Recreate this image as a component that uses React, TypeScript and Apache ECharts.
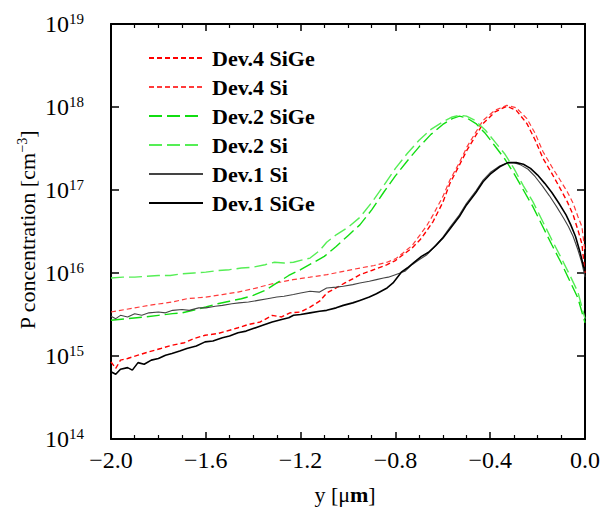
import React, { useEffect, useRef } from "react";
import * as echarts from "echarts";

// Phosphorus profiles: [y position (µm), log10 concentration (cm^-3)]
const dev4SiGe: number[][] = [
  [-2.0, 14.93], [-1.98, 14.85], [-1.96, 14.95], [-1.93, 14.97], [-1.886, 15.01], [-1.84, 15.05],
  [-1.79, 15.09], [-1.743, 15.13], [-1.69, 15.16], [-1.65, 15.21], [-1.603, 15.25], [-1.55, 15.27],
  [-1.5, 15.31], [-1.464, 15.34], [-1.42, 15.38], [-1.37, 15.41], [-1.32, 15.49], [-1.28, 15.47],
  [-1.245, 15.52], [-1.2, 15.53], [-1.16, 15.59], [-1.12, 15.66], [-1.089, 15.76], [-1.05, 15.82],
  [-1.013, 15.88], [-0.98, 15.93], [-0.949, 15.98], [-0.9, 16.03], [-0.835, 16.1], [-0.8, 16.15],
  [-0.768, 16.22], [-0.73, 16.3], [-0.696, 16.4], [-0.67, 16.5], [-0.641, 16.62], [-0.6, 16.85],
  [-0.57, 17.08], [-0.53, 17.3], [-0.498, 17.48], [-0.46, 17.66], [-0.43, 17.8], [-0.38, 17.94],
  [-0.33, 18.01], [-0.29, 17.96], [-0.245, 17.8], [-0.21, 17.6], [-0.177, 17.38], [-0.14, 17.2],
  [-0.105, 17.02], [-0.075, 16.86], [-0.05, 16.7], [-0.03, 16.52], [-0.013, 16.35], [0.0, 16.0],
];

const dev4Si: number[][] = [
  [-2.0, 15.53], [-1.96, 15.55], [-1.9, 15.58], [-1.84, 15.61], [-1.743, 15.65], [-1.68, 15.69],
  [-1.6, 15.71], [-1.53, 15.74], [-1.464, 15.77], [-1.4, 15.81], [-1.32, 15.87], [-1.232, 15.92],
  [-1.16, 15.95], [-1.089, 15.98], [-1.02, 16.02], [-0.949, 16.06], [-0.89, 16.09], [-0.835, 16.13],
  [-0.8, 16.17], [-0.768, 16.24], [-0.73, 16.33], [-0.696, 16.46], [-0.67, 16.56], [-0.641, 16.7],
  [-0.6, 16.92], [-0.57, 17.12], [-0.53, 17.33], [-0.498, 17.52], [-0.46, 17.7], [-0.43, 17.84],
  [-0.38, 17.96], [-0.33, 18.02], [-0.29, 17.99], [-0.245, 17.86], [-0.21, 17.68], [-0.177, 17.46],
  [-0.14, 17.28], [-0.105, 17.12], [-0.075, 16.98], [-0.05, 16.84], [-0.03, 16.68], [-0.013, 16.56],
  [0.0, 16.25],
];

const dev2SiGe: number[][] = [
  [-2.0, 15.43], [-1.93, 15.45], [-1.86, 15.47], [-1.8, 15.49], [-1.74, 15.51], [-1.7, 15.52],
  [-1.64, 15.56], [-1.6, 15.59], [-1.55, 15.63], [-1.5, 15.66], [-1.45, 15.69], [-1.4, 15.73],
  [-1.35, 15.79], [-1.3, 15.88], [-1.25, 15.97], [-1.2, 16.04], [-1.15, 16.12], [-1.1, 16.2],
  [-1.05, 16.32], [-1.0, 16.45], [-0.95, 16.58], [-0.9, 16.76], [-0.85, 16.97], [-0.8, 17.17],
  [-0.75, 17.35], [-0.7, 17.52], [-0.65, 17.67], [-0.6, 17.79], [-0.56, 17.86], [-0.53, 17.89],
  [-0.5, 17.87], [-0.46, 17.8], [-0.42, 17.68], [-0.38, 17.53], [-0.34, 17.38], [-0.3, 17.2],
  [-0.26, 17.0], [-0.22, 16.8], [-0.18, 16.57], [-0.14, 16.34], [-0.1, 16.12], [-0.06, 15.88],
  [-0.03, 15.7], [0.0, 15.4],
];

const dev2Si: number[][] = [
  [-2.0, 15.94], [-1.95, 15.95], [-1.9, 15.95], [-1.85, 15.96], [-1.8, 15.97], [-1.75, 15.97],
  [-1.7, 15.99], [-1.65, 16.0], [-1.6, 16.01], [-1.55, 16.03], [-1.5, 16.04], [-1.45, 16.06],
  [-1.4, 16.07], [-1.35, 16.1], [-1.31, 16.13], [-1.27, 16.12], [-1.23, 16.13], [-1.19, 16.16],
  [-1.16, 16.18], [-1.12, 16.27], [-1.09, 16.37], [-1.05, 16.46], [-1.0, 16.55], [-0.95, 16.67],
  [-0.9, 16.85], [-0.85, 17.05], [-0.8, 17.26], [-0.75, 17.44], [-0.7, 17.6], [-0.65, 17.73],
  [-0.6, 17.82], [-0.56, 17.88], [-0.53, 17.9], [-0.5, 17.89], [-0.464, 17.84], [-0.42, 17.72],
  [-0.38, 17.58], [-0.34, 17.44], [-0.3, 17.26], [-0.26, 17.05], [-0.22, 16.86], [-0.18, 16.63],
  [-0.14, 16.4], [-0.1, 16.18], [-0.06, 15.95], [-0.03, 15.77], [0.0, 15.45],
];

const dev1Si: number[][] = [
  [-2.0, 15.48], [-1.98, 15.45], [-1.96, 15.49], [-1.93, 15.47], [-1.9, 15.51], [-1.87, 15.49],
  [-1.84, 15.52], [-1.8, 15.53], [-1.77, 15.52], [-1.74, 15.55], [-1.7, 15.56], [-1.67, 15.55],
  [-1.63, 15.58], [-1.6, 15.58], [-1.56, 15.6], [-1.53, 15.61], [-1.49, 15.63], [-1.46, 15.64],
  [-1.42, 15.65], [-1.38, 15.67], [-1.34, 15.69], [-1.3, 15.71], [-1.27, 15.72], [-1.23, 15.74],
  [-1.2, 15.76], [-1.16, 15.78], [-1.12, 15.77], [-1.09, 15.82], [-1.05, 15.83], [-1.02, 15.84],
  [-0.98, 15.86], [-0.95, 15.88], [-0.91, 15.9], [-0.88, 15.92], [-0.85, 15.94], [-0.83, 15.95],
  [-0.8, 15.98], [-0.76, 16.02], [-0.73, 16.1], [-0.7, 16.16], [-0.667, 16.22], [-0.64, 16.3],
  [-0.6, 16.43], [-0.57, 16.55], [-0.53, 16.7], [-0.5, 16.84], [-0.46, 16.99], [-0.43, 17.12],
  [-0.4, 17.21], [-0.36, 17.29], [-0.325, 17.33], [-0.3, 17.33], [-0.27, 17.3], [-0.24, 17.25],
  [-0.21, 17.16], [-0.18, 17.05], [-0.15, 16.93], [-0.12, 16.8], [-0.09, 16.66], [-0.07, 16.56],
  [-0.05, 16.44], [-0.03, 16.28], [-0.013, 16.12], [0.0, 15.95],
];

const dev1SiGe: number[][] = [
  [-2.0, 14.81], [-1.98, 14.78], [-1.96, 14.84], [-1.93, 14.86], [-1.91, 14.83], [-1.886, 14.92],
  [-1.86, 14.9], [-1.83, 14.95], [-1.8, 14.97], [-1.77, 15.01], [-1.743, 15.03], [-1.71, 15.06],
  [-1.68, 15.09], [-1.64, 15.12], [-1.603, 15.17], [-1.57, 15.18], [-1.53, 15.22], [-1.5, 15.24],
  [-1.464, 15.28], [-1.43, 15.3], [-1.4, 15.33], [-1.36, 15.37], [-1.32, 15.41], [-1.28, 15.44],
  [-1.25, 15.46], [-1.23, 15.49], [-1.2, 15.5], [-1.16, 15.52], [-1.12, 15.54], [-1.09, 15.55],
  [-1.05, 15.58], [-1.02, 15.61], [-0.98, 15.64], [-0.95, 15.67], [-0.91, 15.71], [-0.88, 15.75],
  [-0.835, 15.82], [-0.81, 15.88], [-0.775, 16.01], [-0.75, 16.06], [-0.72, 16.13], [-0.69, 16.2],
  [-0.66, 16.25], [-0.63, 16.33], [-0.6, 16.42], [-0.57, 16.53], [-0.53, 16.68], [-0.5, 16.82],
  [-0.46, 16.97], [-0.43, 17.1], [-0.4, 17.19], [-0.36, 17.28], [-0.325, 17.33], [-0.29, 17.33],
  [-0.26, 17.31], [-0.23, 17.26], [-0.2, 17.18], [-0.17, 17.08], [-0.14, 16.97], [-0.11, 16.84],
  [-0.08, 16.7], [-0.06, 16.58], [-0.04, 16.44], [-0.02, 16.24], [-0.008, 16.1], [0.0, 16.02],
];

const xTicks = { min: -2.0, max: 0.0, step: 0.4 };
const yDecades = { min: 14, max: 19 };

const SERIF = "Liberation Serif";

const toPoints = (rows: number[][]) => rows.map(([x, e]) => [x, Math.pow(10, e)]);

const curves = [
  { name: "Dev.4 SiGe", rows: dev4SiGe, color: "#ff0000", width: 1.4, dash: [5, 3] },
  { name: "Dev.4 Si", rows: dev4Si, color: "#ff3b3b", width: 1.2, dash: [5, 3] },
  { name: "Dev.2 SiGe", rows: dev2SiGe, color: "#11dd11", width: 1.4, dash: [13, 5] },
  { name: "Dev.2 Si", rows: dev2Si, color: "#55ee55", width: 1.4, dash: [13, 5] },
  { name: "Dev.1 Si", rows: dev1Si, color: "#444444", width: 1.1, dash: "solid" as any },
  { name: "Dev.1 SiGe", rows: dev1SiGe, color: "#000000", width: 1.6, dash: "solid" as any },
];

const fmtX = (v: number) => {
  if (Math.abs(v) < 1e-9) return "0.0";
  return (v < 0 ? "\u2212" : "") + Math.abs(v).toFixed(1);
};

// fresh objects per axis so no option object is shared between components
const frameLine = () => ({ show: true, onZero: false, lineStyle: { color: "#000", width: 2 } });
const ticks = (length: number) => ({ show: true, inside: true, length, lineStyle: { color: "#000", width: 1.5 } });

const xAxisBase = () => ({
  type: "value" as const,
  min: xTicks.min,
  max: xTicks.max,
  interval: xTicks.step,
  axisLine: frameLine(),
  axisTick: ticks(7),
  minorTick: { show: true, splitNumber: 4, length: 4, lineStyle: { color: "#000", width: 1.2 } },
  splitLine: { show: false },
});

const yAxisBase = () => ({
  type: "log" as const,
  logBase: 10,
  min: Math.pow(10, yDecades.min),
  max: Math.pow(10, yDecades.max),
  splitNumber: yDecades.max - yDecades.min,
  axisLine: frameLine(),
  axisTick: ticks(8),
  minorTick: { show: false },
  splitLine: { show: false },
});

export default function App() {
  const ref = useRef<HTMLDivElement>(null);

  useEffect(() => {
    if (!ref.current) return;
    const chart = echarts.init(ref.current, undefined, { renderer: "svg" });

    chart.setOption({
      animation: false,
      backgroundColor: "#fff",
      grid: { left: 111, right: 30, top: 24, bottom: 75, containLabel: false },
      xAxis: [
        {
          ...xAxisBase(),
          position: "bottom",
          axisLabel: {
            show: true,
            margin: 9,
            color: "#000",
            fontFamily: SERIF,
            fontSize: 24,
            formatter: fmtX,
          },
        },
        { ...xAxisBase(), position: "top", axisLabel: { show: false } },
      ],
      yAxis: [
        {
          ...yAxisBase(),
          position: "left",
          axisLabel: {
            show: true,
            margin: 27,
            color: "#000",
            formatter: (v: number) => `{b|10}{s|${Math.round(Math.log10(v))}}`,
            rich: {
              b: { fontFamily: SERIF, fontSize: 24, color: "#000", lineHeight: 26 },
              s: { fontFamily: SERIF, fontSize: 15, color: "#000", verticalAlign: "top", lineHeight: 15, padding: [0, 0, 10, 0] },
            },
          },
        },
        { ...yAxisBase(), position: "right", axisLabel: { show: false } },
      ],
      legend: {
        orient: "vertical",
        left: 143,
        top: 42,
        itemWidth: 54,
        itemHeight: 12,
        itemGap: 7,
        itemStyle: { opacity: 0 },
        data: curves.map((c) => c.name),
        textStyle: {
          fontFamily: SERIF,
          fontWeight: "bold",
          fontSize: 22,
          lineHeight: 22,
          color: "#000",
          padding: [0, 0, 0, 4],
        },
      },
      series: curves.map((c) => ({
        name: c.name,
        type: "line",
        xAxisIndex: 0,
        yAxisIndex: 0,
        data: toPoints(c.rows),
        showSymbol: false,
        symbol: "none",
        smooth: false,
        lineStyle: { color: c.color, width: c.width, type: c.dash },
        itemStyle: { color: c.color },
      })),
      graphic: [
        {
          type: "text",
          x: 345,
          y: 494,
          style: {
            text: "{a|y [\u03bc}{b|m}{a|]}",
            align: "center",
            verticalAlign: "middle",
            rich: {
              a: { fontFamily: SERIF, fontSize: 22, fill: "#000" },
              b: { fontFamily: SERIF, fontSize: 22, fontWeight: "bold", fill: "#000" },
            },
          },
        },
        {
          type: "text",
          x: 27,
          y: 230,
          rotation: Math.PI / 2,
          style: {
            text: "{a|P concentration [cm}{s|\u22123}{a|]}",
            align: "center",
            verticalAlign: "middle",
            rich: {
              a: { fontFamily: SERIF, fontSize: 22, fill: "#000", lineHeight: 24 },
              s: { fontFamily: SERIF, fontSize: 14, fill: "#000", verticalAlign: "top", lineHeight: 14, padding: [0, 0, 10, 0] },
            },
          },
        },
      ],
    });

    return () => chart.dispose();
  }, []);

  return (
    <div
      ref={ref}
      style={{ position: "fixed", left: 0, top: 0, width: 615, height: 514, background: "#fff" }}
    />
  );
}
